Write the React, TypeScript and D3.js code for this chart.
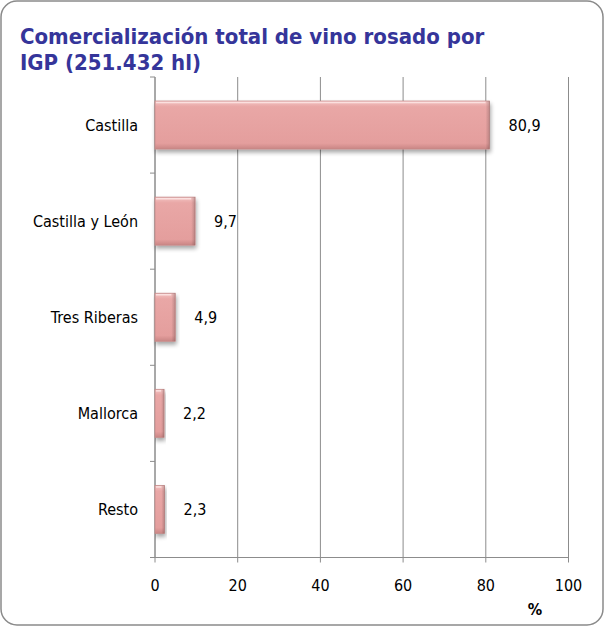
import React from "react";
import * as d3 from "d3";

const categories = ["Castilla", "Castilla y León", "Tres Riberas", "Mallorca", "Resto"];
const values = [80.9, 9.7, 4.9, 2.2, 2.3];
const valueLabels = ["80,9", "9,7", "4,9", "2,2", "2,3"];
const xTicks = [0, 20, 40, 60, 80, 100];
const titleLines = ["Comercialización total de vino rosado por", "IGP (251.432 hl)"];
const axisUnit = "%";

const W = 604;
const H = 626;
const left = 155;
const right = 568.5;
const top = 77;
const bottom = 557.5;
const font = "'DejaVu Sans Condensed', 'DejaVu Sans', sans-serif";

export default function App() {
  const x = d3.scaleLinear().domain([0, 100]).range([left, right]);
  const y = d3.scaleBand<string>().domain(categories).range([top, bottom]).paddingInner(0.5).paddingOuter(0.25);
  const band = d3.scaleBand<string>().domain(categories).range([top, bottom]);
  const bh = y.bandwidth();

  return (
    <svg width={W} height={H} style={{ position: "absolute", left: 0, top: 0 }} xmlns="http://www.w3.org/2000/svg">
      <defs>
        <linearGradient id="barV" x1="0" y1="0" x2="0" y2="1">
          <stop offset="0" stopColor="#f3c4c3" />
          <stop offset="0.12" stopColor="#e9a7a6" />
          <stop offset="0.88" stopColor="#e49e9d" />
          <stop offset="1" stopColor="#c98584" />
        </linearGradient>
        <linearGradient id="barH" x1="0" y1="0" x2="1" y2="0">
          <stop offset="0" stopColor="#000" stopOpacity="0" />
          <stop offset="1" stopColor="#000" stopOpacity="0.18" />
        </linearGradient>
        <filter id="shadow" x="-10%" y="-20%" width="130%" height="160%">
          <feGaussianBlur in="SourceAlpha" stdDeviation="2" />
          <feOffset dx="1" dy="3" result="b" />
          <feComponentTransfer>
            <feFuncA type="linear" slope="0.35" />
          </feComponentTransfer>
          <feMerge>
            <feMergeNode />
            <feMergeNode in="SourceGraphic" />
          </feMerge>
        </filter>
      </defs>
      <rect x={1} y={1} width={W - 2} height={H - 2} rx={16} ry={16} fill="#fff" stroke="#8a8a8a" strokeWidth={1.5} />
      {titleLines.map((t, i) => (
        <text key={i} x={20} y={44 + i * 26} fontFamily={font} fontWeight="bold" fontSize={22} fill="#35359a">
          {t}
        </text>
      ))}
      {/* gridlines */}
      {xTicks.map((t) => (
        <line key={t} x1={x(t)} x2={x(t)} y1={top} y2={bottom + 5} stroke="#8c8c8c" strokeWidth={1} />
      ))}
      {/* x axis */}
      <line x1={left} x2={right} y1={bottom} y2={bottom} stroke="#8c8c8c" strokeWidth={1} />
      {/* y axis ticks */}
      {[...categories.map((c) => band(c)!), bottom].map((v, i) => (
        <line key={i} x1={left - 5} x2={left} y1={v} y2={v} stroke="#8c8c8c" strokeWidth={1} />
      ))}
      <line x1={left} x2={left} y1={top} y2={bottom} stroke="#8c8c8c" strokeWidth={1} />
      {/* bars */}
      {categories.map((c, i) => {
        const x0 = x(0);
        const w = x(values[i]) - x0;
        const y0 = y(c)!;
        const b = Math.min(4, w / 3);
        return (
          <g key={c} filter="url(#shadow)">
            <rect x={x0} y={y0} width={w} height={bh} fill="url(#barV)" stroke="#c48a89" strokeWidth={0.8} />
            <rect x={x0 + w - b} y={y0} width={b} height={bh} fill="url(#barH)" />
            <line x1={x0 + 1} x2={x0 + w - b} y1={y0 + 1.5} y2={y0 + 1.5} stroke="#fbe0df" strokeWidth={1.5} />
          </g>
        );
      })}
      {/* value labels */}
      {categories.map((c, i) => (
        <text key={c} x={x(values[i]) + 19} y={y(c)! + bh / 2} dy="0.35em" fontFamily={font} fontSize={16} fill="#000">
          {valueLabels[i]}
        </text>
      ))}
      {/* category labels */}
      {categories.map((c) => (
        <text key={c} x={138} y={band(c)! + band.bandwidth() / 2} dy="0.35em" textAnchor="end" fontFamily={font} fontSize={16} fill="#000">
          {c}
        </text>
      ))}
      {/* x tick labels */}
      {xTicks.map((t) => (
        <text key={t} x={x(t)} y={591} textAnchor="middle" fontFamily={font} fontSize={16} fill="#000">
          {t}
        </text>
      ))}
      <text x={535} y={615} textAnchor="middle" fontFamily={font} fontSize={16} fontWeight="bold" fill="#000">
        {axisUnit}
      </text>
    </svg>
  );
}
